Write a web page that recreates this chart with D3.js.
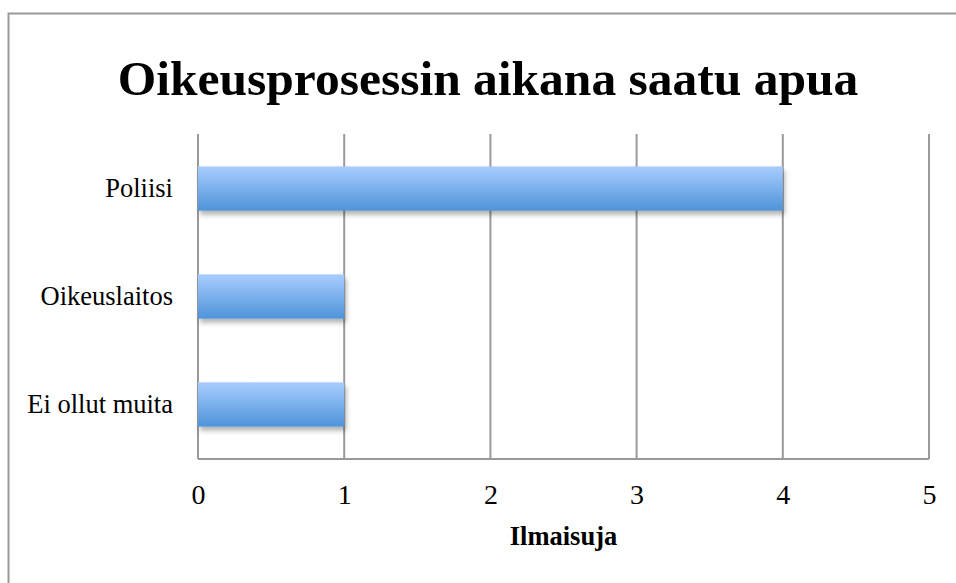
<!DOCTYPE html>
<html>
<head>
<meta charset="utf-8">
<script src="https://cdn.jsdelivr.net/npm/d3@7"></script>
<style>
  body { margin: 0; background: #fff; }
  text { font-family: "Liberation Serif", "Times New Roman", serif; }
</style>
</head>
<body>
<div id="chart"></div>
<script>
// chart data
var categories = ["Poliisi", "Oikeuslaitos", "Ei ollut muita"];
var values = [4, 1, 1];
var xTicks = [0, 1, 2, 3, 4, 5];
var chartTitle = "Oikeusprosessin aikana saatu apua";
var xTitle = "Ilmaisuja";

drawChart();

function drawChart() {
    var W = 956, H = 583;
    var margin = {top: 134, right: 27, bottom: 124, left: 198},
        width = W - margin.left - margin.right,
        height = H - margin.top - margin.bottom;

    var svg = d3.select("#chart").append("svg")
        .attr("width", W)
        .attr("height", H);

    // gradient + shadow for the bars
    var defs = svg.append("defs");
    var grad = defs.append("linearGradient")
        .attr("id", "barGrad")
        .attr("x1", 0).attr("y1", 0).attr("x2", 0).attr("y2", 1);
    grad.append("stop").attr("offset", "0%").attr("stop-color", "#a8cdfe");
    grad.append("stop").attr("offset", "100%").attr("stop-color", "#4e93d9");

    var shadow = defs.append("filter")
        .attr("id", "shadow")
        .attr("x", "-10%").attr("y", "-20%")
        .attr("width", "130%").attr("height", "160%");
    shadow.append("feDropShadow")
        .attr("dx", 2).attr("dy", 4)
        .attr("stdDeviation", 2.5)
        .attr("flood-color", "#000")
        .attr("flood-opacity", 0.3);

    // outer frame
    svg.append("rect")
        .attr("x", 8.5).attr("y", 13.5)
        .attr("width", W + 20).attr("height", H + 20)
        .attr("fill", "none")
        .attr("stroke", "#999")
        .attr("stroke-width", 2);

    // title
    svg.append("text")
        .attr("x", 488).attr("y", 95)
        .attr("text-anchor", "middle")
        .style("font-size", "49.5px")
        .style("font-weight", "bold")
        .text(chartTitle);

    var g = svg.append("g")
        .attr("transform", "translate(" + margin.left + "," + margin.top + ")");

    var x = d3.scaleLinear().domain([0, 5]).range([0, width]);
    var y = d3.scaleBand().domain(categories).range([0, height])
        .paddingInner(0.59).paddingOuter(0.3);

    // vertical gridlines
    g.selectAll(".grid")
        .data(xTicks)
        .enter().append("line")
        .attr("x1", function(d) { return x(d); })
        .attr("x2", function(d) { return x(d); })
        .attr("y1", 0)
        .attr("y2", height)
        .attr("stroke", "#999")
        .attr("stroke-width", 2);

    // bottom axis line
    g.append("line")
        .attr("x1", x(0)).attr("x2", x(5))
        .attr("y1", height).attr("y2", height)
        .attr("stroke", "#999")
        .attr("stroke-width", 2);

    // bars
    g.selectAll(".bar")
        .data(values)
        .enter().append("rect")
        .attr("class", "bar")
        .attr("x", x(0))
        .attr("y", function(d, i) { return y(categories[i]); })
        .attr("width", function(d) { return x(d) - x(0); })
        .attr("height", y.bandwidth())
        .attr("fill", "url(#barGrad)")
        .attr("filter", "url(#shadow)");

    // x axis labels
    var xAxis = g.append("g")
        .attr("transform", "translate(0," + height + ")")
        .call(d3.axisBottom(x).tickValues(xTicks).tickSize(0).tickPadding(25)
            .tickFormat(d3.format("d")));
    xAxis.select(".domain").remove();
    xAxis.selectAll("text")
        .style("font-size", "28px")
        .style("font-family", "'Liberation Serif', serif")
        .attr("fill", "#000");

    // y axis labels
    var yAxis = g.append("g")
        .call(d3.axisLeft(y).tickSize(0).tickPadding(25));
    yAxis.select(".domain").remove();
    yAxis.selectAll("text")
        .style("font-size", "26.5px")
        .style("font-family", "'Liberation Serif', serif")
        .attr("fill", "#000");

    // axis title
    g.append("text")
        .attr("x", width / 2)
        .attr("y", 545 - margin.top)
        .attr("text-anchor", "middle")
        .style("font-size", "26.5px")
        .style("font-weight", "bold")
        .text(xTitle);
}
</script>
</body>
</html>
